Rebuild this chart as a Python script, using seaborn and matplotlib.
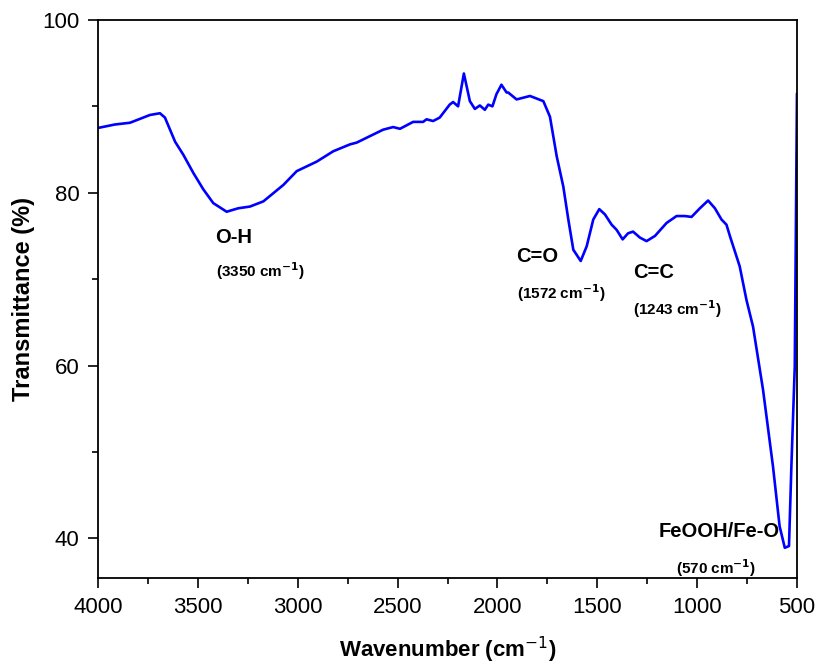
import numpy as np
import seaborn as sns
import matplotlib.pyplot as plt
import pandas as pd
from matplotlib.ticker import MultipleLocator

# dane
wavenumber = [4000, 3915, 3840, 3740, 3690, 3665, 3614, 3573, 3523, 3473, 3423, 3356,
              3298, 3239, 3172, 3072, 3005, 2905, 2822, 2738, 2705, 2572, 2522, 2488,
              2422, 2372, 2355, 2322, 2289, 2239, 2222, 2197, 2168, 2138, 2113, 2088,
              2063, 2046, 2025, 2005, 1980, 1954, 1946, 1904, 1837, 1770, 1737, 1703,
              1670, 1645, 1620, 1583, 1553, 1520, 1490, 1462, 1428, 1403, 1373, 1346,
              1321, 1286, 1253, 1211, 1153, 1103, 1061, 1028, 986, 945, 911, 878,
              853, 836, 787, 753, 720, 670, 620, 587, 561, 540, 528, 511, 500]
transmittance = [87.5, 87.9, 88.1, 89.0, 89.2, 88.7, 85.9, 84.4, 82.3, 80.4, 78.8, 77.8,
                 78.2, 78.4, 79.0, 80.9, 82.5, 83.6, 84.8, 85.6, 85.8, 87.3, 87.6, 87.4,
                 88.2, 88.2, 88.5, 88.3, 88.7, 90.2, 90.5, 90.0, 93.8, 90.6, 89.7, 90.1,
                 89.6, 90.2, 90.0, 91.4, 92.5, 91.6, 91.6, 90.8, 91.2, 90.6, 88.8, 84.2,
                 80.7, 76.9, 73.4, 72.1, 73.8, 76.9, 78.1, 77.5, 76.3, 75.7, 74.6, 75.3,
                 75.5, 74.8, 74.4, 75.0, 76.5, 77.3, 77.3, 77.2, 78.2, 79.1, 78.2, 76.9,
                 76.3, 75.0, 71.5, 67.6, 64.5, 57.2, 48.3, 41.4, 38.9, 39.1, 48.3, 59.9, 91.4]

# etykiety pasm (lewa krawedz tekstu)
band_names = ['O-H', 'C=O', 'C=C', 'FeOOH/Fe-O']
band_pos = ['3350', '1572', '1243', '570']
name_xy = [(3414, 74.86), (1904, 72.6), (1320, 70.75), (1191, 40.8)]
pos_xy = [(3409, 70.9), (1904, 68.4), (1320, 66.5), (1106, 36.6)]

df = pd.DataFrame({'w': wavenumber, 't': transmittance})

plt.rcParams['font.family'] = ['Liberation Sans', 'DejaVu Sans']
fig = plt.figure(figsize=(8.19, 6.65), dpi=100)
ax = fig.add_axes([0.1197, 0.1308, 0.8534, 0.8392])

sns.lineplot(data=df, x='w', y='t', color='#0000ff', linewidth=1.9, sort=False, ax=ax)

ax.set_xlim(4000, 500)
ax.set_ylim(35.4, 100)
ax.xaxis.set_major_locator(MultipleLocator(500))
ax.xaxis.set_minor_locator(MultipleLocator(250))
ax.yaxis.set_major_locator(MultipleLocator(20))
ax.yaxis.set_minor_locator(MultipleLocator(10))
ax.tick_params(which='major', length=7.5, width=1.2, labelsize=16, pad=6, direction='out')
ax.tick_params(which='minor', length=4, width=1.2, direction='out')
for s in ax.spines.values():
    s.set_linewidth(1.3)

ax.set_xlabel('Wavenumber (cm$^{-1}$)', fontsize=16, fontweight='bold', labelpad=12)
ax.set_ylabel('Transmittance (%)', fontsize=17, fontweight='bold', labelpad=5)

for name, pos, xy1, xy2 in zip(band_names, band_pos, name_xy, pos_xy):
    ax.text(xy1[0], xy1[1], name, fontsize=14.5, fontweight='bold', ha='left', va='center')
    ax.text(xy2[0], xy2[1], '(' + pos + r' cm$^{\mathbf{-1}}$)', fontsize=11,
            fontweight='bold', ha='left', va='center')

fig.savefig('out.png', dpi=100)
